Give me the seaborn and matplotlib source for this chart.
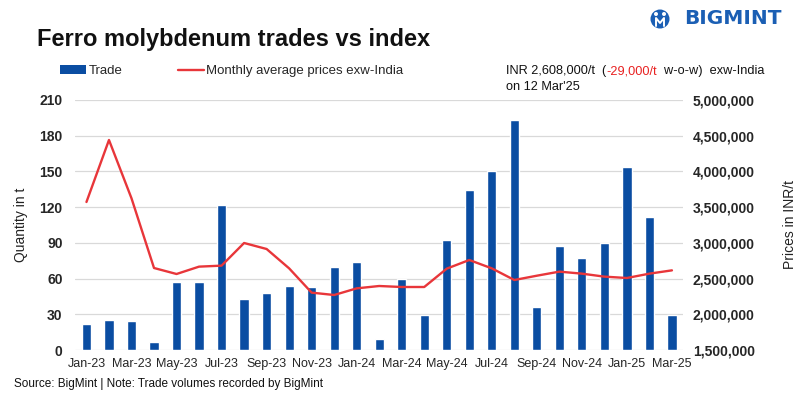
import numpy as np
import pandas as pd
import matplotlib
matplotlib.use("Agg")
import matplotlib.pyplot as plt
import seaborn as sns
from matplotlib.patches import Patch, Ellipse
from matplotlib.lines import Line2D
from matplotlib.ticker import FuncFormatter, MultipleLocator

months = ["Jan-23", "Feb-23", "Mar-23", "Apr-23", "May-23", "Jun-23", "Jul-23",
          "Aug-23", "Sep-23", "Oct-23", "Nov-23", "Dec-23", "Jan-24", "Feb-24",
          "Mar-24", "Apr-24", "May-24", "Jun-24", "Jul-24", "Aug-24", "Sep-24",
          "Oct-24", "Nov-24", "Dec-24", "Jan-25", "Feb-25", "Mar-25"]
trade = [22, 25, 24, 7, 57, 57, 122, 43, 48, 54, 53, 70, 74, 9,
         60, 29, 92, 134, 150, 193, 36, 87, 77, 90, 154, 112, 29]
price = [3572000, 4440000, 3624000, 2648000, 2564000, 2667000, 2681000,
         2998000, 2914000, 2643000, 2303000, 2270000, 2363000, 2396000,
         2382000, 2382000, 2639000, 2760000, 2643000, 2480000, 2540000,
         2597000, 2569000, 2527000, 2508000, 2569000, 2615000]

BLUE = "#0A4DA2"
RED = "#E8363A"

sns.set_style("white")
plt.rcParams["font.family"] = ["Liberation Sans", "DejaVu Sans"]

df = pd.DataFrame({"month": months, "trade": trade, "price": price})

fig = plt.figure(figsize=(8, 3.99), dpi=100)
ax = fig.add_axes([0.094, 0.1228, 0.76, 0.6266])

sns.barplot(data=df, x="month", y="trade", color=BLUE, saturation=1,
            width=0.41, ax=ax, zorder=3)
ax.set_ylim(0, 210)
ax.yaxis.set_major_locator(MultipleLocator(30))
ax.set_xlim(-0.5, len(months) - 0.5)
ax.grid(axis="y", color="#D9D9D9", linewidth=0.9, zorder=0)
ax.set_axisbelow(True)
for s in ax.spines.values():
    s.set_visible(False)
ax.set_xlabel("")
ax.set_ylabel("Quantity in t", fontsize=10, color="#222222")
ax.yaxis.set_label_coords(-0.077, 0.5)
ax.tick_params(axis="y", length=0, pad=9, labelsize=10)
ax.tick_params(axis="x", length=0, pad=6, labelsize=9)
for lbl in ax.get_yticklabels():
    lbl.set_fontweight("bold")

ax2 = ax.twinx()
sns.lineplot(data=df, x="month", y="price", sort=False, color=RED,
             linewidth=1.7, ax=ax2, zorder=4)
ax2.set_ylim(1500000, 5000000)
ax2.yaxis.set_major_locator(MultipleLocator(500000))
ax2.yaxis.set_major_formatter(FuncFormatter(lambda v, p: f"{int(v):,}"))
ax2.tick_params(axis="y", length=0, pad=7, labelsize=10)
for lbl in ax2.get_yticklabels():
    lbl.set_fontweight("bold")
for s in ax2.spines.values():
    s.set_visible(False)
ax2.set_ylabel("Prices in INR/t", fontsize=10, color="#222222")
ax2.yaxis.set_label_coords(1.164, 0.5)
ax2.grid(False)
ax2.set_xlabel("")

ax.set_xticks(range(0, len(months), 2))
ax.set_xticklabels(months[::2])

# Title
fig.text(0.046, 0.9, "Ferro molybdenum trades vs index", fontsize=17,
         fontweight="bold", color="#111111", va="center", ha="left")

# Legend
handles = [Patch(facecolor=BLUE, edgecolor="none", label="Trade"),
           Line2D([0], [0], color=RED, linewidth=1.7,
                  label="Monthly average prices exw-India")]
fig.legend(handles=handles, loc="center left", bbox_to_anchor=(0.075, 0.822),
           ncol=2, frameon=False, fontsize=9.5, handlelength=2.0,
           handleheight=0.6, handletextpad=0.15, columnspacing=4.2,
           borderpad=0, borderaxespad=0)

# Top right annotation (multi-colour)
t1 = fig.text(0.633, 0.822, "INR 2,608,000/t  (", fontsize=9.2,
              color="#111111", va="center", ha="left")
t2 = ax.annotate("-29,000/t", xy=(1, 0), xycoords=t1, fontsize=9.2,
                 color="#E82020", va="bottom", ha="left")
t3 = ax.annotate("  w-o-w)  exw-India", xy=(1, 0), xycoords=t2,
                 fontsize=9.2, color="#111111", va="bottom", ha="left")
fig.text(0.633, 0.782, "on 12 Mar'25", fontsize=9.2, color="#111111",
         va="center", ha="left")

# Source
fig.text(0.018, 0.038, "Source: BigMint | Note: Trade volumes recorded by BigMint",
         fontsize=8.5, color="#111111", va="center", ha="left")

# Logo
LOGO = "#1B5FB4"
fig.add_artist(Ellipse((660 / 800, 1 - 19 / 399), width=19 / 800, height=19 / 399,
                       transform=fig.transFigure, facecolor=LOGO, edgecolor="none"))
fig.add_artist(Ellipse((656 / 800, 1 - 14 / 399), width=4 / 800, height=4 / 399,
                       transform=fig.transFigure, facecolor="white", edgecolor="none"))
fig.add_artist(Ellipse((664 / 800, 1 - 14 / 399), width=4 / 800, height=4 / 399,
                       transform=fig.transFigure, facecolor="white", edgecolor="none"))
fig.add_artist(Line2D([656 / 800, 656 / 800, 660 / 800, 664 / 800, 664 / 800],
                      [1 - 26 / 399, 1 - 18 / 399, 1 - 23 / 399, 1 - 18 / 399, 1 - 26 / 399],
                      transform=fig.transFigure, color="white", linewidth=1.4))
fig.text(684 / 800, 1 - 19 / 399, "BIGMINT", fontsize=14.5, fontweight="bold",
         family="DejaVu Sans", color=LOGO, va="center", ha="left")

fig.savefig("out.png", dpi=100)
